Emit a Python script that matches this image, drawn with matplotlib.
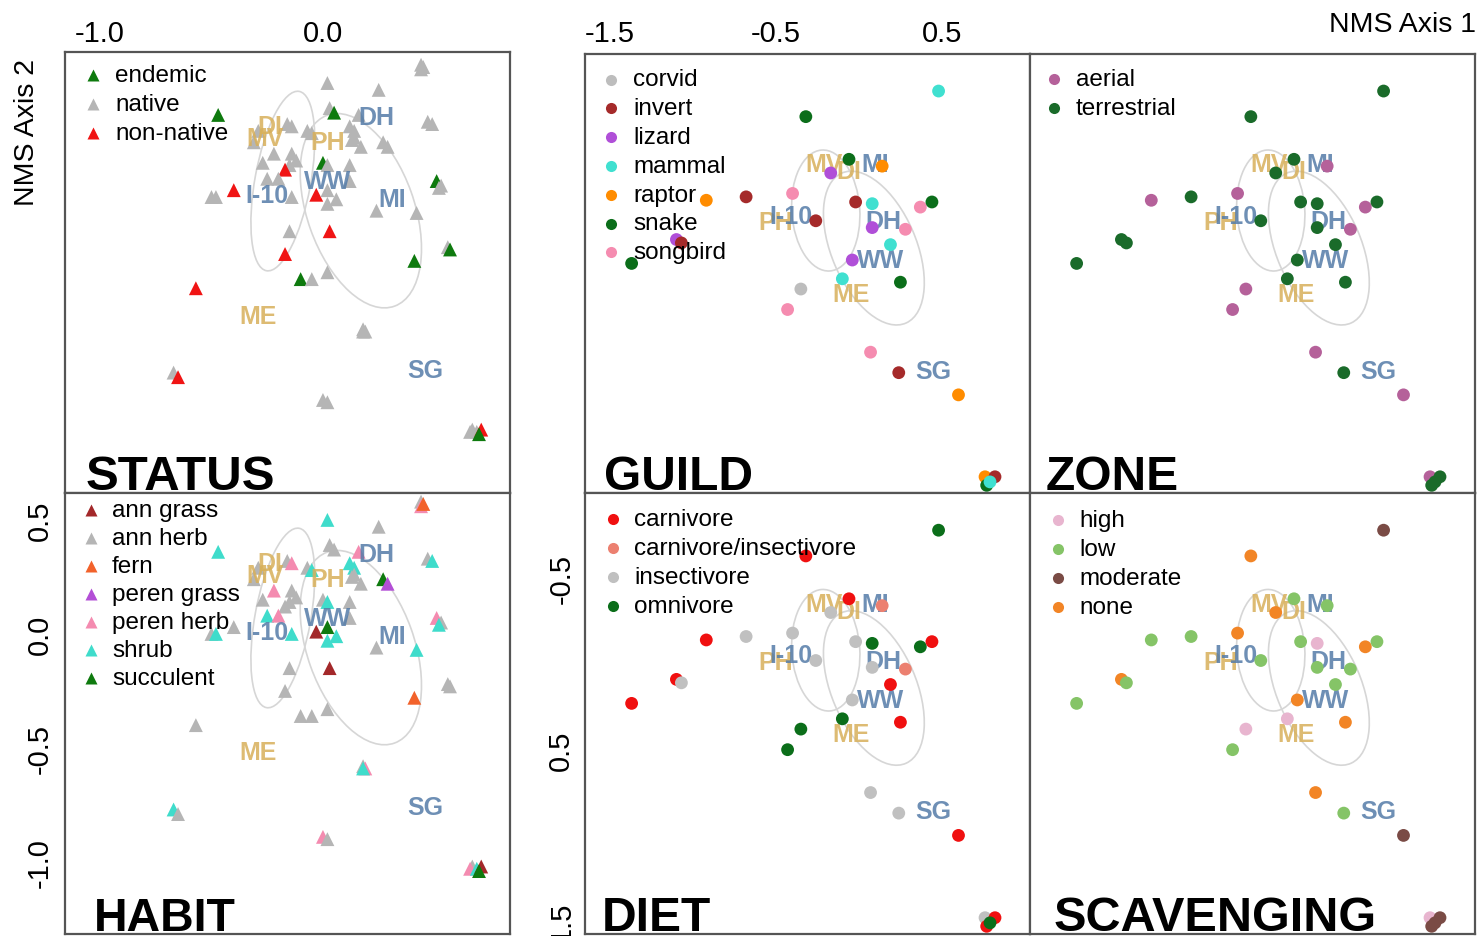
import matplotlib.pyplot as plt
from matplotlib.patches import Ellipse

plt.rcParams.update({
    'font.family': 'sans-serif',
    'font.sans-serif': ['Liberation Sans', 'DejaVu Sans'],
    'axes.unicode_minus': False,
})

W, H = 1479, 937

# ---- plants: NMS scores (axis 1, axis 2) ----
plant_x = [0.44, 0.44, 0.45, 0.02, 0.25, -0.47, 0.03, 0.05, 0.16, 0.47,
           0.49, -0.16, -0.14, -0.29, -0.31, -0.07, -0.05, 0.12, 0.14, 0.14,
           0.13, 0.17, 0.27, 0.29, -0.22, -0.14, -0.12, -0.15, -0.27, -0.17,
           0.00, 0.02, 0.12, -0.50, -0.48, -0.40, -0.25, -0.20, -0.14, -0.03,
           0.02, 0.06, 0.02, 0.12, 0.24, 0.42, 0.51, 0.53, 0.52, -0.15,
           0.03, -0.17, 0.41, 0.56, 0.57, -0.10, -0.05, 0.02, -0.57, 0.18,
           0.19, 0.18, -0.67, -0.65, 0.00, 0.02, 0.67, 0.66, 0.69, 0.71,
           0.70]
plant_y = [0.58, 0.56, 0.57, 0.50, 0.47, 0.36, 0.39, 0.37, 0.36, 0.33,
           0.32, 0.32, 0.31, 0.29, 0.24, 0.29, 0.28, 0.31, 0.29, 0.26,
           0.25, 0.22, 0.24, 0.22, 0.19, 0.19, 0.16, 0.14, 0.15, 0.12,
           0.15, 0.14, 0.14, 0.00, 0.00, 0.03, 0.08, 0.08, 0.00, 0.01,
           0.03, -0.01, -0.03, 0.07, -0.06, -0.07, 0.07, 0.05, 0.04, -0.15,
           -0.15, -0.25, -0.28, -0.22, -0.23, -0.36, -0.36, -0.33, -0.40, -0.58,
           -0.59, -0.59, -0.77, -0.79, -0.89, -0.90, -1.02, -1.03, -1.03, -1.02,
           -1.04]
plant_status = ['native', 'native', 'native', 'native', 'native', 'endemic', 'native', 'endemic', 'native', 'native',
                'native', 'native', 'native', 'native', 'native', 'native', 'native', 'native', 'native', 'native',
                'native', 'native', 'native', 'native', 'native', 'native', 'native', 'native', 'native', 'non-native',
                'endemic', 'native', 'native', 'native', 'native', 'non-native', 'native', 'native', 'native', 'non-native',
                'native', 'native', 'native', 'native', 'native', 'native', 'endemic', 'native', 'native', 'native',
                'non-native', 'non-native', 'endemic', 'native', 'endemic', 'endemic', 'native', 'native', 'non-native', 'native',
                'native', 'native', 'native', 'non-native', 'native', 'native', 'native', 'native', 'native', 'non-native',
                'endemic']
plant_habit = ['ann herb', 'peren herb', 'fern', 'shrub', 'ann herb', 'shrub', 'ann herb', 'ann herb', 'peren herb', 'ann herb',
               'shrub', 'ann herb', 'peren herb', 'ann herb', 'ann herb', 'ann herb', 'shrub', 'shrub', 'shrub', 'ann herb',
               'ann herb', 'ann herb', 'succulent', 'peren grass', 'peren herb', 'ann herb', 'ann herb', 'ann herb', 'ann herb', 'ann herb',
               'ann herb', 'shrub', 'ann herb', 'ann herb', 'shrub', 'ann herb', 'shrub', 'peren herb', 'shrub', 'ann grass',
               'succulent', 'shrub', 'shrub', 'ann herb', 'ann herb', 'shrub', 'peren herb', 'ann herb', 'shrub', 'ann herb',
               'ann grass', 'ann herb', 'fern', 'ann herb', 'ann herb', 'ann herb', 'ann herb', 'ann herb', 'ann herb', 'ann herb',
               'peren herb', 'shrub', 'shrub', 'ann herb', 'peren herb', 'ann herb', 'ann herb', 'peren herb', 'shrub', 'ann grass',
               'succulent']

status_levels = ['endemic', 'native', 'non-native']
status_colors = ['#0e7a0e', '#b5b5b5', '#f01414']
habit_levels = ['ann grass', 'ann herb', 'fern', 'peren grass', 'peren herb', 'shrub', 'succulent']
habit_colors = ['#a3282a', '#b5b5b5', '#f2622b', '#b34fd6', '#f48bb0', '#3fdccb', '#0e7a0e']

# ---- animals: NMS scores (axis 1, axis 2) ----
animal_x = [0.48, -0.32, -0.06, -0.17, 0.14, -0.92, -0.68, -0.40, -0.02, 0.08,
            0.37, 0.44, -0.26, 0.08, 0.28, 0.19, -0.04, -1.10, -1.07, -1.37,
            -0.10, 0.25, -0.35, -0.43, 0.07, 0.24, 0.60, 0.76, 0.82, 0.77,
            0.79]
animal_y = [-0.78, -0.63, -0.38, -0.30, -0.34, -0.14, -0.16, -0.18, -0.13, -0.12,
            -0.10, -0.13, -0.02, 0.02, 0.03, 0.12, 0.21, 0.09, 0.11, 0.23,
            0.32, 0.34, 0.38, 0.50, 0.75, 0.87, 1.00, 1.48, 1.48, 1.53,
            1.51]
animal_guild = ['mammal', 'snake', 'snake', 'lizard', 'raptor', 'raptor', 'invert', 'songbird', 'invert', 'mammal',
                'songbird', 'snake', 'invert', 'lizard', 'songbird', 'mammal', 'lizard', 'lizard', 'invert', 'snake',
                'mammal', 'snake', 'corvid', 'songbird', 'songbird', 'invert', 'raptor', 'raptor', 'invert', 'snake',
                'mammal']
animal_zone = ['terrestrial', 'terrestrial', 'terrestrial', 'terrestrial', 'aerial', 'aerial', 'terrestrial', 'aerial',
               'terrestrial', 'terrestrial', 'aerial', 'terrestrial', 'terrestrial', 'terrestrial', 'aerial', 'terrestrial',
               'terrestrial', 'terrestrial', 'terrestrial', 'terrestrial', 'terrestrial', 'terrestrial', 'aerial', 'aerial',
               'aerial', 'terrestrial', 'aerial', 'aerial', 'terrestrial', 'terrestrial', 'terrestrial']
animal_diet = ['omnivore', 'carnivore', 'carnivore', 'insectivore', 'carnivore/insectivore', 'carnivore', 'insectivore',
               'insectivore', 'insectivore', 'omnivore', 'omnivore', 'carnivore', 'insectivore', 'insectivore',
               'carnivore/insectivore', 'carnivore', 'insectivore', 'carnivore', 'insectivore', 'carnivore', 'omnivore',
               'carnivore', 'omnivore', 'omnivore', 'insectivore', 'insectivore', 'carnivore', 'insectivore', 'carnivore',
               'carnivore', 'omnivore']
animal_scav = ['moderate', 'none', 'low', 'none', 'low', 'low', 'low', 'none', 'low', 'high',
               'none', 'low', 'low', 'low', 'low', 'low', 'none', 'none', 'low', 'low',
               'high', 'none', 'high', 'low', 'none', 'low', 'moderate', 'high', 'moderate', 'moderate',
               'moderate']

guild_levels = ['corvid', 'invert', 'lizard', 'mammal', 'raptor', 'snake', 'songbird']
guild_colors = ['#bdbdbd', '#a52a2a', '#b04fd8', '#40e0d0', '#ff8c00', '#0b6e1a', '#f58cb0']
zone_levels = ['aerial', 'terrestrial']
zone_colors = ['#b5619a', '#1a6b2a']
diet_levels = ['carnivore', 'carnivore/insectivore', 'insectivore', 'omnivore']
diet_colors = ['#f01010', '#ec8070', '#c0c0c0', '#0b6e1a']
scav_levels = ['high', 'low', 'moderate', 'none']
scav_colors = ['#e8b5cf', '#85c467', '#7a4b45', '#f28526']

# ---- site centroids ----
sites = ['DI', 'MV', 'PH', 'DH', 'WW', 'I-10', 'MI', 'ME', 'SG']
site_group = ['gold', 'gold', 'gold', 'blue', 'blue', 'blue', 'blue', 'gold', 'blue']
plant_site_x = [-0.24, -0.26, 0.02, 0.24, 0.02, -0.25, 0.31, -0.29, 0.46]
plant_site_y = [0.31, 0.26, 0.24, 0.35, 0.07, 0.01, -0.01, -0.52, -0.76]
animal_site_x = [-0.06, -0.21, -0.50, 0.15, 0.13, -0.41, 0.10, -0.05, 0.45]
animal_site_y = [-0.31, -0.35, -0.01, -0.02, 0.21, -0.05, -0.35, 0.41, 0.86]
site_colors = {'gold': '#d8b05a', 'blue': '#557ca8'}

# dispersion ellipses: (x, y, width, height, angle)
plant_ell = [(-0.18, 0.07, 0.25, 0.80, -10.6), (0.17, -0.06, 0.48, 0.89, 20.0)]
animal_ell = [(-0.20, -0.08, 0.41, 0.71, -4.0), (0.09, 0.14, 0.51, 0.96, -24.0)]

fig = plt.figure(figsize=(W / 100, H / 100), dpi=100)


def panel(box, xlim, ylim):
    l, t, r, b = box
    ax = fig.add_axes([l / W, 1 - b / H, (r - l) / W, (b - t) / H])
    ax.set_xlim(*xlim)
    ax.set_ylim(*ylim)
    ax.set_xticks([])
    ax.set_yticks([])
    ax.tick_params(length=0, labelsize=21)
    for s in ax.spines.values():
        s.set_color('#555555')
        s.set_linewidth(1.6)
    return ax


def draw(ax, x, y, groups, levels, colors, marker, size, sx, sy, ells, pts_on_top):
    cmap = dict(zip(levels, colors))
    for ex, ey, ew, eh, ea in ells:
        ax.add_patch(Ellipse((ex, ey), ew, eh, angle=ea, fill=False,
                             edgecolor='#d6d6d6', lw=1.2, zorder=1))
    ax.scatter(x, y, c=[cmap[g] for g in groups], marker=marker, s=size,
               linewidths=0, zorder=3 if pts_on_top else 2)
    for name, g, px, py in zip(sites, site_group, sx, sy):
        ax.text(px, py, name, color=site_colors[g], fontsize=18, fontweight='bold',
                ha='center', va='center', alpha=0.85, zorder=2 if pts_on_top else 3)


def key(ax, box, levels, colors, marker, ms, mx, tx, y0, dy):
    l, t, r, b = box
    for i, (lab, col) in enumerate(zip(levels, colors)):
        yy = 1 - (y0 + i * dy - t) / (b - t)
        ax.plot((mx - l) / (r - l), yy, marker=marker, ms=ms, color=col, ls='',
                mec='none', transform=ax.transAxes, zorder=4)
        ax.text((tx - l) / (r - l), yy, lab, fontsize=17.5, va='center', ha='left',
                transform=ax.transAxes, zorder=4)


def title(ax, box, name, tx, size=34):
    l, t, r, b = box
    ax.text((tx - l) / (r - l), 0.008, name, fontsize=size, fontweight='bold',
            ha='left', va='baseline', transform=ax.transAxes, clip_on=True, zorder=5)


# ---- left column: plants ----
b_status = (65, 53, 510, 494)
b_habit = (65, 494, 510, 935)
ax1 = panel(b_status, (-1.157, 0.839), (-1.298, 0.636))
draw(ax1, plant_x, plant_y, plant_status, status_levels, status_colors, '^', 100,
     plant_site_x, plant_site_y, plant_ell, False)
key(ax1, b_status, status_levels, status_colors, '^', 8.5, 93, 115, 76, 29)
title(ax1, b_status, 'STATUS', 86, 35.5)
ax1.xaxis.tick_top()
ax1.set_xticks([-1.0, 0.0])
ax1.set_xticklabels(['-1.0', '0.0'])
ax1.tick_params(axis='x', pad=3.5)

ax2 = panel(b_habit, (-1.157, 0.839), (-1.316, 0.618))
draw(ax2, plant_x, plant_y, plant_habit, habit_levels, habit_colors, '^', 100,
     plant_site_x, plant_site_y, plant_ell, False)
key(ax2, b_habit, habit_levels, habit_colors, '^', 8.5, 91, 112, 511, 28)
title(ax2, b_habit, 'HABIT', 94, 33.5)
ax2.set_yticks([0.5, 0.0, -0.5, -1.0])
ax2.set_yticklabels(['0.5', '0.0', '-0.5', '-1.0'], rotation=90, va='center')
ax2.tick_params(axis='y', pad=8)

# ---- right block: animals (axis 2 runs downward) ----
xl = (-1.651, 1.031)
yl = (1.575, -0.997)
b_guild = (585, 55, 1030, 494)
b_zone = (1030, 55, 1475, 494)
b_diet = (585, 494, 1030, 935)
b_scav = (1030, 494, 1475, 935)

ax3 = panel(b_guild, xl, yl)
draw(ax3, animal_x, animal_y, animal_guild, guild_levels, guild_colors, 'o', 85,
     animal_site_x, animal_site_y, animal_ell, True)
key(ax3, b_guild, guild_levels, guild_colors, 'o', 8, 611, 633, 80.5, 28.8)
title(ax3, b_guild, 'GUILD', 604, 34.5)
ax3.xaxis.tick_top()
ax3.set_xticks([-1.5, -0.5, 0.5])
ax3.set_xticklabels(['-1.5', '-0.5', '0.5'])
ax3.tick_params(axis='x', pad=5)

ax4 = panel(b_zone, xl, yl)
draw(ax4, animal_x, animal_y, animal_zone, zone_levels, zone_colors, 'o', 85,
     animal_site_x, animal_site_y, animal_ell, True)
key(ax4, b_zone, zone_levels, zone_colors, 'o', 8, 1054, 1076, 80, 29)
title(ax4, b_zone, 'ZONE', 1046, 34.5)

ax5 = panel(b_diet, xl, yl)
draw(ax5, animal_x, animal_y, animal_diet, diet_levels, diet_colors, 'o', 85,
     animal_site_x, animal_site_y, animal_ell, True)
key(ax5, b_diet, diet_levels, diet_colors, 'o', 8, 613, 634, 520, 29)
title(ax5, b_diet, 'DIET', 602, 34.5)
ax5.set_yticks([-0.5, 0.5, 1.5])
ax5.set_yticklabels(['-0.5', '0.5', '1.5'], rotation=90, va='center')
ax5.tick_params(axis='y', pad=7)

ax6 = panel(b_scav, xl, yl)
draw(ax6, animal_x, animal_y, animal_scav, scav_levels, scav_colors, 'o', 85,
     animal_site_x, animal_site_y, animal_ell, True)
key(ax6, b_scav, scav_levels, scav_colors, 'o', 8, 1058, 1079, 521, 29)
title(ax6, b_scav, 'SCAVENGING', 1054, 35)

fig.text(1476 / W, 1 - 25 / H, 'NMS Axis 1', fontsize=20.5, ha='right', va='center')
fig.text(27 / W, 1 - 132 / H, 'NMS Axis 2', fontsize=20.5, rotation=90,
         ha='center', va='center')

fig.savefig('out.png', dpi=100)
